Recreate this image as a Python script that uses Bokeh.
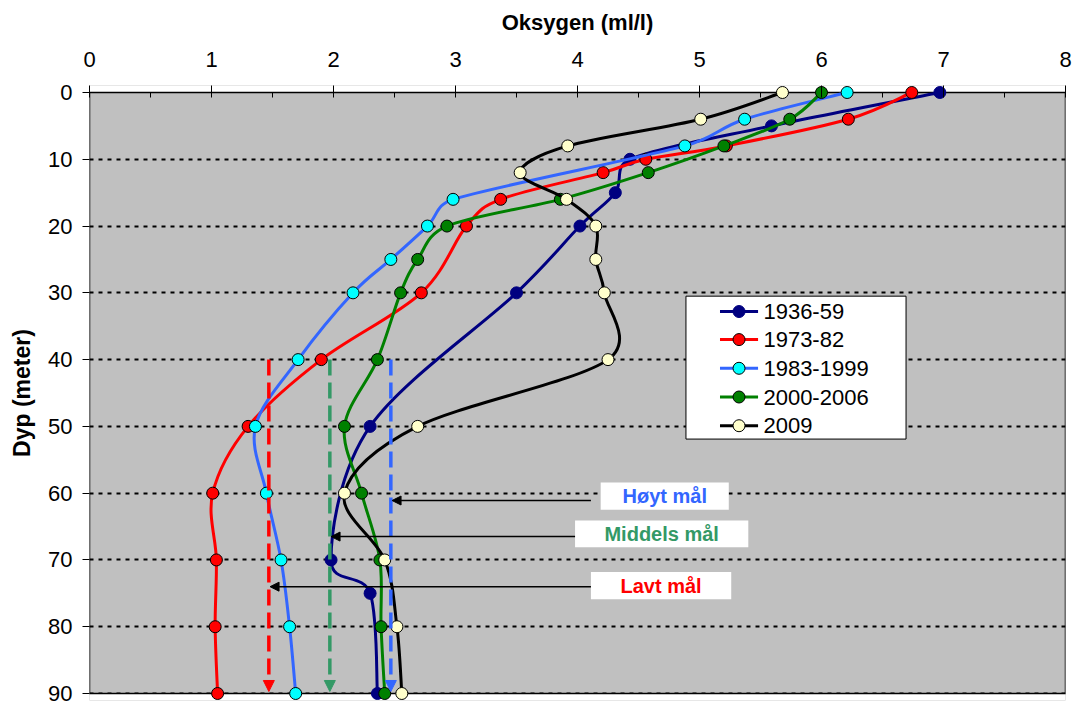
import math
from bokeh.plotting import figure
from bokeh.models import Range1d, FixedTicker, Arrow, NormalHead
from bokeh.core.properties import value
from bokeh.embed import file_html
from bokeh.resources import INLINE

FONT = "Liberation Sans"

# ---------------- data ----------------
series_names = ["1936-59", "1973-82", "1983-1999", "2000-2006", "2009"]

depth_1936 = [0, 5, 10, 15, 20, 30, 50, 70, 75, 90]
oxy_1936 = [6.97, 5.59, 4.43, 4.31, 4.02, 3.50, 2.30, 1.98, 2.30, 2.36]

depth_1973 = [0, 4, 8, 10, 12, 16, 20, 30, 40, 50, 60, 70, 80, 90]
oxy_1973 = [6.74, 6.22, 5.22, 4.56, 4.21, 3.37, 3.09, 2.72, 1.90, 1.30, 1.01, 1.04, 1.03, 1.05]

depth_1983 = [0, 4, 8, 16, 20, 25, 30, 40, 50, 60, 70, 80, 90]
oxy_1983 = [6.21, 5.37, 4.88, 2.98, 2.77, 2.47, 2.16, 1.71, 1.36, 1.45, 1.57, 1.64, 1.69]

depth_2000 = [0, 4, 8, 12, 16, 20, 25, 30, 40, 50, 60, 70, 80, 90]
oxy_2000 = [6.00, 5.74, 5.20, 4.58, 3.86, 2.93, 2.69, 2.55, 2.36, 2.09, 2.23, 2.38, 2.39, 2.42]

depth_2009 = [0, 4, 8, 12, 16, 20, 25, 30, 40, 50, 60, 70, 80, 90]
oxy_2009 = [5.68, 5.01, 3.92, 3.53, 3.91, 4.15, 4.15, 4.22, 4.25, 2.69, 2.09, 2.42, 2.52, 2.56]

x_ticks = [0, 1, 2, 3, 4, 5, 6, 7, 8]
y_ticks = [0, 10, 20, 30, 40, 50, 60, 70, 80, 90]

target_names = ["Høyt mål", "Middels mål", "Lavt mål"]
target_oxygen = [2.47, 1.97, 1.47]
target_top_depth = 40
target_colors = ["#3366FF", "#339966", "#FF0000"]

# ---------------- styles ----------------
line_colors = ["#000080", "#FF0000", "#3366FF", "#008000", "#000000"]
fill_colors = ["#000080", "#FF0000", "#00FFFF", "#008000", "#FFFFCC"]
edge_colors = ["#000080", "#000000", "#000000", "#000000", "#000000"]
series = [(oxy_1936, depth_1936), (oxy_1973, depth_1973), (oxy_1983, depth_1983),
          (oxy_2000, depth_2000), (oxy_2009, depth_2009)]

PAD = 1.048  # depth units of white margin above 0 m and below 90 m (room for markers)
FRAME_W, FRAME_H = 976, 615
SX = FRAME_W / 8.0                  # px per ml/l
SY = FRAME_H / (90 + 2 * PAD)       # px per metre


def smooth_segments(xs, ys):
    """Bezier control points of an Excel-like smoothed line through the data points."""
    n = len(xs)

    def dist(i, j):
        return math.hypot((xs[i] - xs[j]) * SX, (ys[i] - ys[j]) * SY)

    out = {k: [] for k in ("x0", "y0", "x1", "y1", "cx0", "cy0", "cx1", "cy1")}
    for i in range(n - 1):
        a = i - 1 if i > 0 else i
        d = i + 2 if i + 2 < n else i + 1
        d12 = dist(i, i + 1)
        d02 = dist(a, i + 1)
        d13 = dist(i, d)
        f0 = 1 / 6.0
        f1 = 1 / 6.0
        if d02 / 6.0 > d12 / 2.0 and d02 > 0:
            f0 = d12 / (2.0 * d02)
        if d13 / 6.0 > d12 / 2.0 and d13 > 0:
            f1 = d12 / (2.0 * d13)
        out["x0"].append(xs[i]); out["y0"].append(ys[i])
        out["x1"].append(xs[i + 1]); out["y1"].append(ys[i + 1])
        out["cx0"].append(xs[i] + (xs[i + 1] - xs[a]) * f0)
        out["cy0"].append(ys[i] + (ys[i + 1] - ys[a]) * f0)
        out["cx1"].append(xs[i + 1] - (xs[d] - xs[i]) * f1)
        out["cy1"].append(ys[i + 1] - (ys[d] - ys[i]) * f1)
    return out


p = figure(frame_width=FRAME_W, frame_height=FRAME_H,
           x_range=Range1d(0, 8), y_range=Range1d(90 + PAD, -PAD),
           x_axis_location="above", y_axis_location="left",
           output_backend="svg", toolbar_location=None,
           min_border_left=89, min_border_right=8, min_border_top=85, min_border_bottom=5,
           background_fill_color="#C0C0C0", border_fill_color="white",
           outline_line_color=None)

p.xgrid.visible = False
p.ygrid.ticker = FixedTicker(ticks=y_ticks[1:])
p.ygrid.grid_line_color = "black"
p.ygrid.grid_line_dash = "4 5"
p.ygrid.grid_line_width = 2

# white strips outside the 0-90 m plotting area
p.quad(left=[0, 0], right=[8, 8], top=[-PAD, 90], bottom=[0, 90 + PAD],
       fill_color="white", line_color=None)
# plot area border
p.quad(left=[0], right=[8], top=[0], bottom=[90], fill_color=None,
       line_color="black", line_width=1.5)
# minor ticks on the top axis
minor_x = [t + 0.5 for t in x_ticks[:-1]]
p.segment(x0=minor_x, y0=[0] * len(minor_x), x1=minor_x, y1=[0.75] * len(minor_x),
          line_color="black", line_width=1)

for (xs, ys), lc, fc, ec in zip(series, line_colors, fill_colors, edge_colors):
    seg = smooth_segments(xs, ys)
    p.bezier(line_color=lc, line_width=3, **seg)
    p.scatter(xs, ys, size=12, fill_color=fc, line_color=ec, line_width=1)

# target arrows (dashed vertical)
for tx, col in zip(target_oxygen, target_colors):
    p.add_layout(Arrow(x_start=tx, y_start=target_top_depth, x_end=tx, y_end=89.7,
                       line_color=col, line_width=3.5, line_dash="16 7",
                       end=NormalHead(size=11, fill_color=col, line_color=col, line_width=1)))

# target labels: white boxes, text and pointer arrows
box_left = [4.19, 3.98, 4.11]
box_right = [5.24, 5.40, 5.26]
box_top = [58.4, 64.1, 71.8]
box_bottom = [62.5, 68.1, 75.9]
arrow_depth = [61.1, 66.5, 74.0]
arrow_from = [4.11, 3.98, 4.11]
arrow_to = [2.48, 1.98, 1.48]

p.quad(left=box_left, right=box_right, top=box_top, bottom=box_bottom,
       fill_color="white", line_color=None)
p.text(x=[(l + r) / 2 for l, r in zip(box_left, box_right)],
       y=[(t + b) / 2 for t, b in zip(box_top, box_bottom)],
       text=target_names, text_color=target_colors,
       text_font=value(FONT), text_font_style="bold", text_font_size="20px",
       text_align="center", text_baseline="middle")
for y, x0, x1 in zip(arrow_depth, arrow_from, arrow_to):
    p.add_layout(Arrow(x_start=x0, y_start=y, x_end=x1, y_end=y,
                       line_color="black", line_width=1.5,
                       end=NormalHead(size=9, fill_color="black", line_color="black", line_width=1)))

# legend (drawn by hand to match the original box geometry)
leg_rows = [32.8, 37.0, 41.3, 45.6, 49.9]
p.quad(left=[4.889], right=[6.693], top=[30.5], bottom=[51.9],
       fill_color="white", line_color="black", line_width=1)
p.segment(x0=[5.168] * 5, y0=leg_rows, x1=[5.48] * 5, y1=leg_rows,
          line_color=line_colors, line_width=3)
p.scatter([5.324] * 5, leg_rows, size=12, fill_color=fill_colors,
          line_color=edge_colors, line_width=1)
p.text(x=[5.524] * 5, y=leg_rows, text=series_names, text_color="black",
       text_font=value(FONT), text_font_size="22px",
       text_align="left", text_baseline="middle")

# axes
xa = p.xaxis[0]
xa.ticker = FixedTicker(ticks=x_ticks)
xa.axis_label = "Oksygen (ml/l)"
xa.axis_label_text_font = FONT
xa.axis_label_text_font_style = "bold"
xa.axis_label_text_font_size = "22px"
xa.axis_label_text_color = "black"
xa.axis_label_standoff = 14
xa.major_label_text_font = FONT
xa.major_label_text_font_size = "22px"
xa.major_label_text_color = "black"
xa.major_label_standoff = 19
xa.axis_line_color = None
xa.major_tick_in = 12
xa.major_tick_out = 0
xa.major_tick_line_color = "black"
xa.minor_tick_line_color = None

ya = p.yaxis[0]
ya.ticker = FixedTicker(ticks=y_ticks)
ya.axis_label = "Dyp (meter)"
ya.axis_label_text_font = FONT
ya.axis_label_text_font_style = "bold"
ya.axis_label_text_font_size = "23px"
ya.axis_label_text_color = "black"
ya.axis_label_standoff = 10
ya.major_label_text_font = FONT
ya.major_label_text_font_size = "22px"
ya.major_label_text_color = "black"
ya.major_label_standoff = 10
ya.axis_line_color = None
ya.major_tick_in = 0
ya.major_tick_out = 7
ya.major_tick_line_color = "black"
ya.minor_tick_line_color = None

open("out.html", "w").write(file_html(p, INLINE))
